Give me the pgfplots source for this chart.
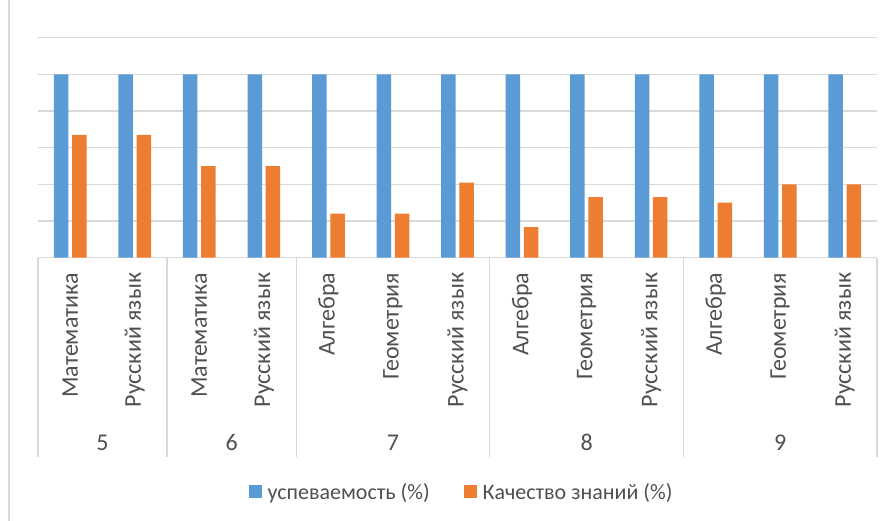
\documentclass[border=0pt]{standalone}
\usepackage{fontspec}
\setmainfont{Carlito}
\usepackage{pgfplots}
\pgfplotsset{compat=1.18}
\definecolor{blueS}{HTML}{5B9BD5}
\definecolor{orangeS}{HTML}{ED7D31}
\definecolor{gridgray}{HTML}{D9D9D9}
\definecolor{txt}{HTML}{505050}
\newcommand{\lbl}{\fontsize{24}{28}\selectfont}
\newcommand{\lgd}{\fontsize{22}{26}\selectfont}
\begin{document}
\begin{tikzpicture}
\path[use as bounding box] (0pt,0pt) rectangle (894pt,521pt);
\begin{axis}[
  at={(38pt,263.3pt)}, anchor=south west,
  scale only axis, width=839pt, height=220pt,
  ybar=3.7pt, bar width=14.5pt,
  xmin=-0.5, xmax=12.5, ymin=0, ymax=120,
  ytick={0,20,...,120}, yticklabels={},
  ymajorgrids, major grid style={draw=gridgray, line width=1.3pt},
  axis line style={draw=none}, major tick length=0pt,
  xtick={0,...,12},
  xticklabels={Математика, Русский язык, Математика, Русский язык,
    Алгебра, Геометрия, Русский язык, Алгебра, Геометрия, Русский язык,
    Алгебра, Геометрия, Русский язык},
  xticklabel style={rotate=90, anchor=east, inner sep=0pt, font=\lbl, text=txt},
  xticklabel shift=15pt,
  clip=false,
  legend style={at={(0.5,0)}, anchor=center, xshift=4pt, yshift=-234.3pt, draw=none,
    font=\lgd, text=txt, legend columns=2,
    /tikz/every odd column/.append style={column sep=4pt},
    /tikz/every even column/.append style={column sep=32pt}},
  legend image code/.code={\fill[#1] (0pt,-6.5pt) rectangle (13pt,6.5pt);},
]
\addplot[fill=blueS, draw=none] coordinates {
  (0,100) (1,100) (2,100) (3,100) (4,100) (5,100) (6,100)
  (7,100) (8,100) (9,100) (10,100) (11,100) (12,100)};
\addplot[fill=orangeS, draw=none] coordinates {
  (0,67) (1,67) (2,50) (3,50) (4,24) (5,24) (6,41)
  (7,16.7) (8,33) (9,33) (10,30) (11,40) (12,40)};
\legend{успеваемость (\%), Качество знаний (\%)}
\pgfplotsinvokeforeach{-0.5,1.5,3.5,6.5,9.5,12.5}{
  \draw[gridgray, line width=1.3pt] (axis cs:#1,0) -- ++(0pt,-199pt);
}
\node[font=\lbl, text=txt, yshift=-185pt] at (axis cs:0.5,0) {5};
\node[font=\lbl, text=txt, yshift=-185pt] at (axis cs:2.5,0) {6};
\node[font=\lbl, text=txt, yshift=-185pt] at (axis cs:5,0) {7};
\node[font=\lbl, text=txt, yshift=-185pt] at (axis cs:8,0) {8};
\node[font=\lbl, text=txt, yshift=-185pt] at (axis cs:11,0) {9};
\end{axis}
\draw[gridgray, line width=1.3pt] (9pt,0pt) -- (9pt,521pt);
\end{tikzpicture}
\end{document}
